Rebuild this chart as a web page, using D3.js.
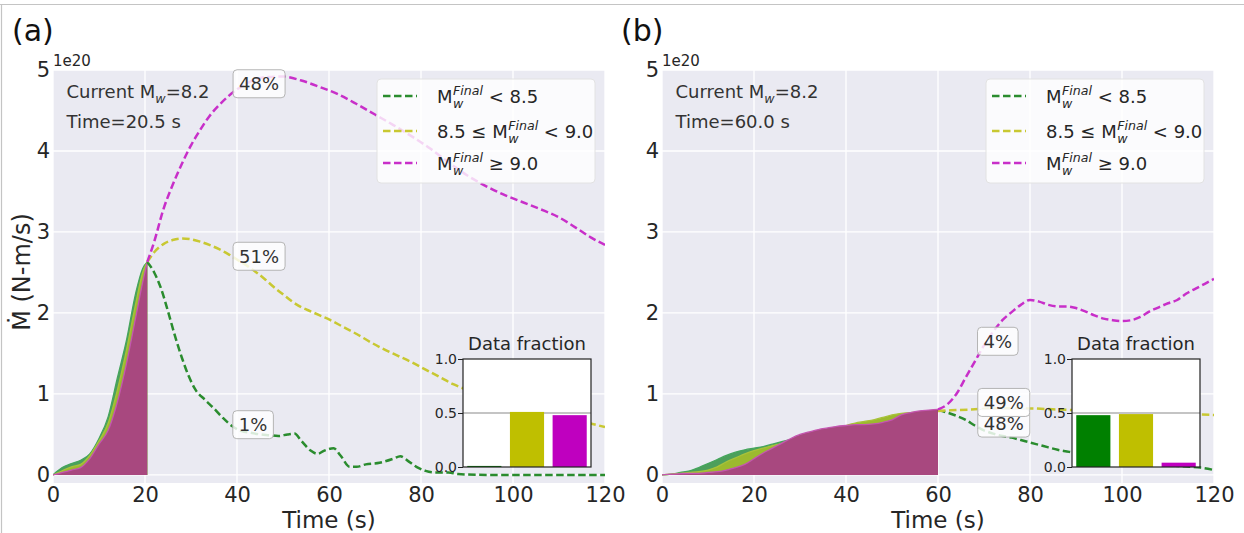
<!DOCTYPE html>
<html>
<head>
<meta charset="utf-8">
<script src="https://cdn.jsdelivr.net/npm/d3@7"></script>
<style>
  body { margin: 0; background: #fff; }
  svg { display: block; }
  text { font-family: "DejaVu Sans", sans-serif; white-space: pre; }
</style>
</head>
<body>
<svg id="fig" width="1244" height="533"></svg>
<script>
// ---------- data (moment rate in units of 1e20 N-m/s) ----------
const xTicks = [0, 20, 40, 60, 80, 100, 120];
const yTicks = [0, 1, 2, 3, 4, 5];
const fracTicks = [0, 0.5, 1];

// Panel (a): observed part up to 20.5 s
const obsTimeA = [0, 2, 4, 6, 8, 10, 12, 14, 16, 18, 19.5, 20.5];
const obsLowA  = [0, 0.09, 0.14, 0.18, 0.26, 0.45, 0.72, 1.20, 1.67, 2.25, 2.55, 2.63];
const obsMidA  = [0, 0.05, 0.10, 0.13, 0.24, 0.42, 0.64, 1.05, 1.55, 2.12, 2.50, 2.63];
const obsHighA = [0, 0.03, 0.06, 0.09, 0.20, 0.38, 0.55, 0.90, 1.38, 1.95, 2.38, 2.63];

// Panel (a): predicted continuation per final-magnitude class
const fcLowTimeA = [20.5, 22, 23.5, 25, 26.5, 28, 29.5, 31, 33, 35, 37, 39, 41, 43, 45, 47, 49, 51, 52.5, 54, 56, 57.5, 59, 61, 62.5, 64.5, 66, 68, 71, 74, 75.5, 77, 79, 81, 83, 86, 88, 95, 105, 120];
const fcLowA     = [2.63, 2.50, 2.30, 2.02, 1.72, 1.45, 1.22, 1.05, 0.93, 0.82, 0.70, 0.60, 0.54, 0.52, 0.50, 0.49, 0.48, 0.50, 0.51, 0.42, 0.30, 0.26, 0.30, 0.33, 0.24, 0.10, 0.10, 0.13, 0.15, 0.20, 0.23, 0.18, 0.10, 0.05, 0.03, 0.03, 0.01, 0.0, 0.0, 0.0];
const fcMidTimeA = [20.5, 22, 24, 26, 28, 30, 32, 34, 36, 38, 40, 42, 44, 46, 48, 50, 52, 54, 56, 58, 60, 63, 66, 69, 72, 75, 78, 81, 84, 87, 90, 95, 100, 105, 110, 115, 120];
const fcMidA     = [2.63, 2.75, 2.85, 2.90, 2.92, 2.91, 2.88, 2.84, 2.79, 2.73, 2.66, 2.59, 2.51, 2.42, 2.32, 2.23, 2.14, 2.07, 2.02, 1.97, 1.92, 1.83, 1.74, 1.64, 1.55, 1.47, 1.39, 1.30, 1.21, 1.12, 1.05, 0.95, 0.86, 0.79, 0.72, 0.66, 0.59];
const fcHighTimeA = [20.5, 22, 24, 26, 28, 30, 32, 34, 36, 38, 40, 43, 46, 50, 54, 58, 62, 66, 70, 74, 78, 82, 86, 90, 94, 98, 102, 106, 110, 114, 117, 120];
const fcHighA     = [2.63, 2.88, 3.28, 3.58, 3.84, 4.07, 4.26, 4.43, 4.56, 4.67, 4.76, 4.86, 4.91, 4.92, 4.87, 4.79, 4.70, 4.58, 4.45, 4.32, 4.18, 4.03, 3.86, 3.70, 3.57, 3.46, 3.37, 3.28, 3.18, 3.04, 2.93, 2.84];

const fracA = [0.01, 0.51, 0.48];
const labelAtA = [[43.5, 0.62], [44.8, 2.70], [44.8, 4.83]];

// Panel (b): observed part up to 60 s
const obsTimeB = [0, 2, 4, 6, 8, 10, 12, 14, 16, 18, 20, 22, 24, 26, 28, 30, 32, 34, 36, 38, 40, 42, 44, 46, 48, 50, 52, 54, 56, 58, 60];
const obsLowB  = [0, 0.01, 0.03, 0.05, 0.09, 0.14, 0.19, 0.24, 0.28, 0.31, 0.33, 0.35, 0.38, 0.41, 0.44, 0.47, 0.50, 0.53, 0.55, 0.57, 0.60, 0.62, 0.64, 0.66, 0.69, 0.72, 0.74, 0.76, 0.78, 0.79, 0.80];
const obsMidB  = [0, 0.01, 0.02, 0.03, 0.04, 0.06, 0.10, 0.16, 0.21, 0.26, 0.30, 0.33, 0.36, 0.39, 0.43, 0.47, 0.50, 0.53, 0.55, 0.57, 0.61, 0.64, 0.66, 0.68, 0.71, 0.74, 0.76, 0.77, 0.78, 0.79, 0.79];
const obsHighB = [0, 0.01, 0.015, 0.02, 0.02, 0.03, 0.04, 0.06, 0.09, 0.13, 0.20, 0.27, 0.33, 0.39, 0.45, 0.50, 0.53, 0.56, 0.58, 0.60, 0.61, 0.62, 0.62, 0.63, 0.65, 0.68, 0.74, 0.77, 0.79, 0.80, 0.81];

// Panel (b): predicted continuation
const fcLowTimeB = [60, 62, 64, 66, 68, 70, 72, 74, 76, 78, 80, 82, 84, 86, 88, 90, 95, 100, 105, 110, 115, 117, 120];
const fcLowB     = [0.80, 0.77, 0.73, 0.68, 0.61, 0.55, 0.51, 0.48, 0.46, 0.43, 0.40, 0.37, 0.34, 0.31, 0.29, 0.27, 0.23, 0.20, 0.16, 0.12, 0.10, 0.09, 0.06];
const fcMidTimeB = [60, 64, 68, 72, 76, 80, 85, 90, 95, 100, 105, 110, 115, 120];
const fcMidB     = [0.79, 0.80, 0.81, 0.82, 0.82, 0.82, 0.81, 0.80, 0.79, 0.78, 0.77, 0.76, 0.75, 0.74];
const fcHighTimeB = [60, 62, 64, 66, 68, 70, 72, 74, 76, 78, 80, 82, 84, 86, 88, 90, 92, 94, 96, 98, 100, 102, 104, 106, 108, 110, 112, 114, 116, 118, 120];
const fcHighB     = [0.81, 0.87, 1.00, 1.20, 1.40, 1.60, 1.77, 1.91, 2.01, 2.10, 2.16, 2.14, 2.10, 2.08, 2.08, 2.06, 2.02, 1.97, 1.93, 1.91, 1.90, 1.91, 1.95, 2.02, 2.07, 2.12, 2.16, 2.24, 2.30, 2.36, 2.42];

const fracB = [0.48, 0.49, 0.04];
const labelAtB = [[74.3, 0.64], [74.3, 0.895], [73.0, 1.65]];

// ---------- styling ----------
const lineColors = ["#2a8c2e", "#c8c832", "#c82fc9"];
const fillColors = ["#4c9f5c", "#9cba2e", "#a8487f"];
const fillEdges  = ["#45a55c", "#a8c23a", "#c456b0"];
const barColors  = ["#008000", "#bfbf00", "#bf00bf"];
const textColor = "#262626";

const panels = [
  { tag: "(a)", left: 53, now: "20.5", yLabel: true,
    obsTime: obsTimeA, obs: [obsLowA, obsMidA, obsHighA],
    fc: [[fcLowTimeA, fcLowA], [fcMidTimeA, fcMidA], [fcHighTimeA, fcHighA]],
    frac: fracA, labelAt: labelAtA },
  { tag: "(b)", left: 662, now: "60.0", yLabel: false,
    obsTime: obsTimeB, obs: [obsLowB, obsMidB, obsHighB],
    fc: [[fcLowTimeB, fcLowB], [fcMidTimeB, fcMidB], [fcHighTimeB, fcHighB]],
    frac: fracB, labelAt: labelAtB }
];

const svg = d3.select("#fig");
svg.append("rect").attr("width", 1244).attr("height", 533).attr("fill", "#fff");
// thin figure frame
svg.append("line").attr("x1", 0).attr("x2", 1244).attr("y1", 4.5).attr("y2", 4.5)
  .attr("stroke", "#c4c4c4").attr("stroke-width", 1.2);
svg.append("line").attr("x1", 1.5).attr("x2", 1.5).attr("y1", 4.5).attr("y2", 533)
  .attr("stroke", "#c4c4c4").attr("stroke-width", 1.2);

const plotW = 552, plotTop = 70, plotBottom = 483;

// Draws M_w^Final and returns the x where the next text should start
function drawMw(g, x, y, fs) {
  const m = g.append("text").attr("x", x).attr("y", y).attr("font-size", fs)
    .attr("fill", textColor).text("M");
  const mw = m.node().getComputedTextLength();
  const sx = x + mw + 0.5;
  const sub = g.append("text").attr("x", sx).attr("y", y + fs * 0.3)
    .attr("font-size", fs * 0.7).attr("font-style", "italic").attr("fill", textColor).text("w");
  const sup = g.append("text").attr("x", sx).attr("y", y - fs * 0.42)
    .attr("font-size", fs * 0.7).attr("font-style", "italic").attr("fill", textColor).text("Final");
  return sx + Math.max(sub.node().getComputedTextLength(), sup.node().getComputedTextLength());
}

panels.forEach((p, pi) => {
  const x = d3.scaleLinear().domain([0, 120]).range([p.left, p.left + plotW]);
  const y = d3.scaleLinear().domain([-0.1, 5]).range([plotBottom, plotTop]);
  const g = svg.append("g");

  // plot background and grid
  g.append("rect").attr("x", p.left).attr("y", plotTop)
    .attr("width", plotW).attr("height", plotBottom - plotTop).attr("fill", "#eaeaf2");
  g.selectAll(".gx").data(xTicks).join("line")
    .attr("x1", d => x(d)).attr("x2", d => x(d)).attr("y1", plotTop).attr("y2", plotBottom)
    .attr("stroke", "#fff").attr("stroke-width", 1.3);
  g.selectAll(".gy").data(yTicks).join("line")
    .attr("x1", p.left).attr("x2", p.left + plotW).attr("y1", d => y(d)).attr("y2", d => y(d))
    .attr("stroke", "#fff").attr("stroke-width", 1.3);

  const clipId = "clip" + pi;
  svg.append("clipPath").attr("id", clipId).append("rect")
    .attr("x", p.left).attr("y", plotTop).attr("width", plotW).attr("height", plotBottom - plotTop);
  const body = g.append("g").attr("clip-path", `url(#${clipId})`);

  // observed moment rate, filled to zero for each class
  p.obs.forEach((vals, k) => {
    const pts = p.obsTime.map((t, i) => [t, vals[i]]);
    const area = d3.area().x(d => x(d[0])).y0(y(0)).y1(d => y(d[1])).curve(d3.curveMonotoneX);
    const edge = d3.line().x(d => x(d[0])).y(d => y(d[1])).curve(d3.curveMonotoneX);
    body.append("path").attr("d", area(pts)).attr("fill", fillColors[k]);
    body.append("path").attr("d", edge(pts)).attr("fill", "none")
      .attr("stroke", fillEdges[k]).attr("stroke-width", 1.3);
  });

  // predicted continuations
  p.fc.forEach(([ts, vs], k) => {
    const pts = ts.map((t, i) => [t, vs[i]]);
    const line = d3.line().x(d => x(d[0])).y(d => y(d[1])).curve(d3.curveMonotoneX);
    body.append("path").attr("d", line(pts)).attr("fill", "none")
      .attr("stroke", lineColors[k]).attr("stroke-width", 2.5)
      .attr("stroke-dasharray", "7.5,3.5");
  });

  // probability labels
  p.labelAt.forEach(([t, v], k) => {
    const lg = g.append("g").attr("transform", `translate(${x(t)},${y(v)})`);
    const rect = lg.append("rect");
    const txt = lg.append("text").attr("text-anchor", "middle").attr("dy", "0.36em")
      .attr("font-size", 18).attr("fill", "#333")
      .text(Math.round(p.frac[k] * 100) + "%");
    const tw = txt.node().getComputedTextLength();
    rect.attr("x", -tw / 2 - 6).attr("y", -14).attr("width", tw + 12).attr("height", 28)
      .attr("rx", 4).attr("fill", "#fff").attr("fill-opacity", 0.82)
      .attr("stroke", "#b4b4b4").attr("stroke-width", 1);
  });

  // axes
  const xAxis = g.append("g").attr("transform", `translate(0,${plotBottom})`)
    .call(d3.axisBottom(x).tickValues(xTicks).tickSize(0).tickPadding(4));
  const yAxis = g.append("g").attr("transform", `translate(${p.left},0)`)
    .call(d3.axisLeft(y).tickValues(yTicks).tickSize(0).tickPadding(3).tickFormat(d3.format("d")));
  [xAxis, yAxis].forEach(a => {
    a.select(".domain").remove();
    a.selectAll("text").attr("font-size", 21).attr("fill", textColor)
      .attr("font-family", "DejaVu Sans");
  });
  g.append("text").attr("x", p.left).attr("y", 66).attr("font-size", 15)
    .attr("fill", textColor).text("1e20");

  g.append("text").attr("x", p.left + plotW / 2).attr("y", 528).attr("text-anchor", "middle")
    .attr("font-size", 23).attr("fill", textColor).text("Time (s)");
  if (p.yLabel) {
    g.append("text").attr("transform", "translate(30,272) rotate(-90)")
      .attr("text-anchor", "middle").attr("font-size", 24).attr("fill", textColor)
      .text("Ṁ (N-m/s)");
  }
  g.append("text").attr("x", p.left - 41).attr("y", 41).attr("font-size", 30)
    .attr("fill", "#111").text(p.tag);

  // current-state annotation
  const ax = p.left + 13.5;
  const cur = g.append("text").attr("x", ax).attr("y", 98).attr("font-size", 18).attr("fill", "#333");
  cur.append("tspan").text("Current M");
  cur.append("tspan").attr("font-size", 12.6).attr("font-style", "italic").attr("dy", 5).text("w");
  cur.append("tspan").attr("dy", -5).text("=8.2");
  g.append("text").attr("x", ax).attr("y", 128).attr("font-size", 18).attr("fill", "#333")
    .text(`Time=${p.now} s`);

  // legend
  const lx = p.left + 324, ly = 79;
  const leg = g.append("g");
  leg.append("rect").attr("x", lx).attr("y", ly).attr("width", 218).attr("height", 104)
    .attr("rx", 4).attr("fill", "#fff").attr("fill-opacity", 0.8)
    .attr("stroke", "#e2e2e2").attr("stroke-width", 1);
  const rows = [96, 131, 163];
  rows.forEach((ry, k) => {
    leg.append("line").attr("x1", lx + 6).attr("x2", lx + 40).attr("y1", ry).attr("y2", ry)
      .attr("stroke", lineColors[k]).attr("stroke-width", 2.5).attr("stroke-dasharray", "7.5,3.5");
    const ty = ry + 7;
    let tx = lx + 60;
    if (k === 1) {
      const pre = leg.append("text").attr("x", tx).attr("y", ty).attr("font-size", 18)
        .attr("fill", textColor).text("8.5 ≤ ");
      tx += pre.node().getComputedTextLength();
    }
    tx = drawMw(leg, tx, ty, 18);
    const tail = k === 0 ? " < 8.5" : k === 1 ? " < 9.0" : " ≥ 9.0";
    leg.append("text").attr("x", tx).attr("y", ty).attr("font-size", 18)
      .attr("fill", textColor).text(tail);
  });

  // inset: fraction of data per class
  const ix = p.left + 410, iy = 359, iw = 128, ih = 108;
  const ins = g.append("g").attr("transform", `translate(${ix},${iy})`);
  const xb = d3.scaleLinear().domain([-0.5, 2.5]).range([0, iw]);
  const yb = d3.scaleLinear().domain([0, 1]).range([ih, 0]);
  ins.append("rect").attr("width", iw).attr("height", ih).attr("fill", "#fff");
  ins.append("line").attr("x1", 0).attr("x2", iw).attr("y1", yb(0.5)).attr("y2", yb(0.5))
    .attr("stroke", "#b0b0b0").attr("stroke-width", 1.3);
  ins.selectAll(".bar").data(p.frac).join("rect")
    .attr("x", (d, i) => xb(i - 0.4)).attr("width", xb(0.4) - xb(-0.4))
    .attr("y", d => yb(d)).attr("height", d => yb(0) - yb(d))
    .attr("fill", (d, i) => barColors[i]);
  ins.append("rect").attr("width", iw).attr("height", ih).attr("fill", "none")
    .attr("stroke", "#222").attr("stroke-width", 1.2);
  const ia = ins.append("g").call(d3.axisLeft(yb).tickValues(fracTicks).tickSize(5)
    .tickPadding(1).tickFormat(d3.format(".1f")));
  ia.select(".domain").remove();
  ia.selectAll("line").attr("stroke", "#222");
  ia.selectAll("text").attr("font-size", 14).attr("fill", textColor)
    .attr("font-family", "DejaVu Sans");
  ins.append("text").attr("x", iw / 2).attr("y", -9).attr("text-anchor", "middle")
    .attr("font-size", 18).attr("fill", textColor).text("Data fraction");
});
</script>
</body>
</html>
